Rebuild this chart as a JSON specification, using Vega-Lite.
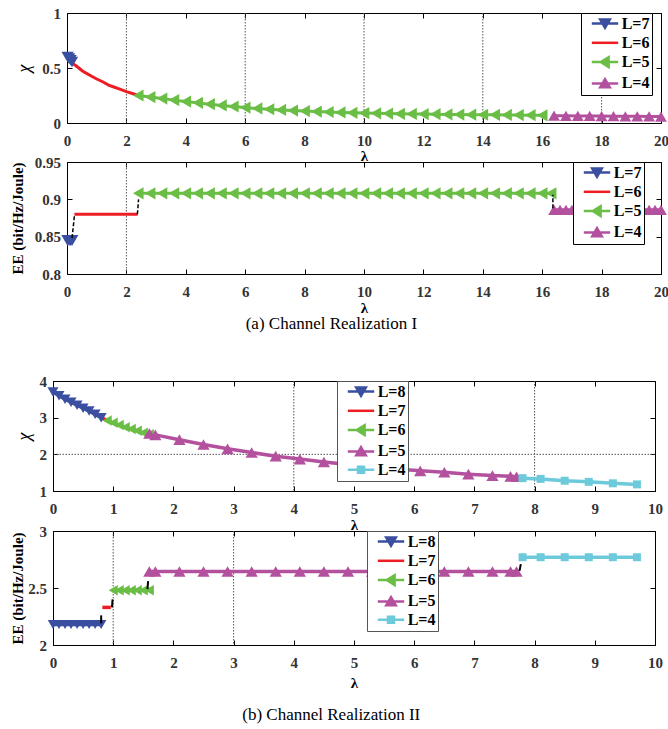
{
"$schema": "https://vega.github.io/schema/vega-lite/v6.json",
"padding": {"left": 9, "top": 5, "right": 5, "bottom": 4},
"background": "white",
"config": {
  "font": "Liberation Serif",
  "numberFormat": "~g",
  "view": {"stroke": "black", "strokeWidth": 1},
  "axis": {"tickSize": -5, "tickColor": "black", "tickWidth": 1, "domain": false, "grid": false, "labelFont": "Liberation Serif", "labelFontWeight": "bold", "labelFontSize": 15, "labelColor": "#333", "labelFlush": false, "labelOverlap": false, "titleFont": "Liberation Serif", "titleFontWeight": "bold", "titleFontSize": 15, "titleColor": "black"},
  "axisX": {"labelPadding": 15, "titlePadding": 0},
  "axisY": {"labelPadding": 11.5},
  "legend": {"labelFont": "Liberation Serif", "labelFontWeight": "bold", "labelFontSize": 16, "labelColor": "black", "strokeColor": "black", "fillColor": "white", "padding": 2.5, "rowPadding": 1.3, "symbolSize": 144, "symbolOffset": 13.5, "labelOffset": 8.7},
  "title": {"font": "Liberation Serif", "fontSize": 17, "fontWeight": "normal", "color": "black"}
},
"datasets": {
  "d1": [
    {"L":"L=7","lam":0.02,"val":0.6},{"L":"L=7","lam":0.07,"val":0.585},{"L":"L=7","lam":0.12,"val":0.57},{"L":"L=7","lam":0.17,"val":0.555},
    {"L":"L=6","lam":0.2,"val":0.54},{"L":"L=6","lam":0.3,"val":0.52},{"L":"L=6","lam":0.4,"val":0.5},{"L":"L=6","lam":0.5,"val":0.478},{"L":"L=6","lam":0.6,"val":0.46},{"L":"L=6","lam":0.8,"val":0.43},{"L":"L=6","lam":1.0,"val":0.4},{"L":"L=6","lam":1.2,"val":0.375},{"L":"L=6","lam":1.4,"val":0.345},{"L":"L=6","lam":1.6,"val":0.325},{"L":"L=6","lam":1.8,"val":0.305},{"L":"L=6","lam":2.0,"val":0.285},{"L":"L=6","lam":2.2,"val":0.268},{"L":"L=6","lam":2.35,"val":0.255},
    {"L":"L=5","lam":2.4,"val":0.25},{"L":"L=5","lam":2.8,"val":0.236},{"L":"L=5","lam":3.2,"val":0.222},{"L":"L=5","lam":3.6,"val":0.208},{"L":"L=5","lam":4.0,"val":0.195},{"L":"L=5","lam":4.4,"val":0.183},{"L":"L=5","lam":4.8,"val":0.171},{"L":"L=5","lam":5.2,"val":0.16},{"L":"L=5","lam":5.6,"val":0.15},{"L":"L=5","lam":6.0,"val":0.14},{"L":"L=5","lam":6.4,"val":0.132},{"L":"L=5","lam":6.8,"val":0.125},{"L":"L=5","lam":7.2,"val":0.119},{"L":"L=5","lam":7.6,"val":0.113},{"L":"L=5","lam":8.0,"val":0.108},{"L":"L=5","lam":8.4,"val":0.104},{"L":"L=5","lam":8.8,"val":0.1},{"L":"L=5","lam":9.2,"val":0.096},{"L":"L=5","lam":9.6,"val":0.093},{"L":"L=5","lam":10.0,"val":0.09},{"L":"L=5","lam":10.4,"val":0.088},{"L":"L=5","lam":10.8,"val":0.086},{"L":"L=5","lam":11.2,"val":0.084},{"L":"L=5","lam":11.6,"val":0.082},{"L":"L=5","lam":12.0,"val":0.081},{"L":"L=5","lam":12.4,"val":0.08},{"L":"L=5","lam":12.8,"val":0.078},{"L":"L=5","lam":13.2,"val":0.077},{"L":"L=5","lam":13.6,"val":0.076},{"L":"L=5","lam":14.0,"val":0.075},{"L":"L=5","lam":14.4,"val":0.074},{"L":"L=5","lam":14.8,"val":0.073},{"L":"L=5","lam":15.2,"val":0.072},{"L":"L=5","lam":15.6,"val":0.071},{"L":"L=5","lam":16.0,"val":0.07},
    {"L":"L=4","lam":16.4,"val":0.066},{"L":"L=4","lam":16.8,"val":0.065},{"L":"L=4","lam":17.2,"val":0.064},{"L":"L=4","lam":17.6,"val":0.064},{"L":"L=4","lam":18.0,"val":0.063},{"L":"L=4","lam":18.4,"val":0.062},{"L":"L=4","lam":18.8,"val":0.061},{"L":"L=4","lam":19.2,"val":0.061},{"L":"L=4","lam":19.6,"val":0.06},{"L":"L=4","lam":20.0,"val":0.059}
  ],
  "d2": [
    {"L":"L=7","lam":0.02,"val":0.845},{"L":"L=7","lam":0.07,"val":0.845},{"L":"L=7","lam":0.12,"val":0.845},{"L":"L=7","lam":0.17,"val":0.845},
    {"L":"L=6","lam":0.25,"val":0.88},{"L":"L=6","lam":2.38,"val":0.88},
    {"L":"L=5","lam":2.4,"val":0.908},{"L":"L=5","lam":2.8,"val":0.908},{"L":"L=5","lam":3.2,"val":0.908},{"L":"L=5","lam":3.6,"val":0.908},{"L":"L=5","lam":4.0,"val":0.908},{"L":"L=5","lam":4.4,"val":0.908},{"L":"L=5","lam":4.8,"val":0.908},{"L":"L=5","lam":5.2,"val":0.908},{"L":"L=5","lam":5.6,"val":0.908},{"L":"L=5","lam":6.0,"val":0.908},{"L":"L=5","lam":6.4,"val":0.908},{"L":"L=5","lam":6.8,"val":0.908},{"L":"L=5","lam":7.2,"val":0.908},{"L":"L=5","lam":7.6,"val":0.908},{"L":"L=5","lam":8.0,"val":0.908},{"L":"L=5","lam":8.4,"val":0.908},{"L":"L=5","lam":8.8,"val":0.908},{"L":"L=5","lam":9.2,"val":0.908},{"L":"L=5","lam":9.6,"val":0.908},{"L":"L=5","lam":10.0,"val":0.908},{"L":"L=5","lam":10.4,"val":0.908},{"L":"L=5","lam":10.8,"val":0.908},{"L":"L=5","lam":11.2,"val":0.908},{"L":"L=5","lam":11.6,"val":0.908},{"L":"L=5","lam":12.0,"val":0.908},{"L":"L=5","lam":12.4,"val":0.908},{"L":"L=5","lam":12.8,"val":0.908},{"L":"L=5","lam":13.2,"val":0.908},{"L":"L=5","lam":13.6,"val":0.908},{"L":"L=5","lam":14.0,"val":0.908},{"L":"L=5","lam":14.4,"val":0.908},{"L":"L=5","lam":14.8,"val":0.908},{"L":"L=5","lam":15.2,"val":0.908},{"L":"L=5","lam":15.6,"val":0.908},{"L":"L=5","lam":16.0,"val":0.908},{"L":"L=5","lam":16.3,"val":0.908},
    {"L":"L=4","lam":16.4,"val":0.886},{"L":"L=4","lam":16.6,"val":0.886},{"L":"L=4","lam":16.8,"val":0.886},{"L":"L=4","lam":17.0,"val":0.886},{"L":"L=4","lam":17.2,"val":0.886},{"L":"L=4","lam":17.4,"val":0.886},{"L":"L=4","lam":17.6,"val":0.886},{"L":"L=4","lam":17.8,"val":0.886},{"L":"L=4","lam":18.0,"val":0.886},{"L":"L=4","lam":18.2,"val":0.886},{"L":"L=4","lam":18.4,"val":0.886},{"L":"L=4","lam":18.6,"val":0.886},{"L":"L=4","lam":18.8,"val":0.886},{"L":"L=4","lam":19.0,"val":0.886},{"L":"L=4","lam":19.2,"val":0.886},{"L":"L=4","lam":19.4,"val":0.886},{"L":"L=4","lam":19.6,"val":0.886},{"L":"L=4","lam":19.8,"val":0.886},{"L":"L=4","lam":20.0,"val":0.886}
  ],
  "d3": [
    {"L":"L=8","lam":0,"val":3.7},{"L":"L=8","lam":0.1,"val":3.6},{"L":"L=8","lam":0.2,"val":3.5},{"L":"L=8","lam":0.3,"val":3.42},{"L":"L=8","lam":0.4,"val":3.34},{"L":"L=8","lam":0.5,"val":3.26},{"L":"L=8","lam":0.6,"val":3.18},{"L":"L=8","lam":0.7,"val":3.09},{"L":"L=8","lam":0.8,"val":3.0},
    {"L":"L=7","lam":0.8,"val":3.0},{"L":"L=7","lam":0.9,"val":2.92},
    {"L":"L=6","lam":0.9,"val":2.92},{"L":"L=6","lam":1.0,"val":2.86},{"L":"L=6","lam":1.1,"val":2.8},{"L":"L=6","lam":1.2,"val":2.74},{"L":"L=6","lam":1.3,"val":2.69},{"L":"L=6","lam":1.4,"val":2.64},{"L":"L=6","lam":1.5,"val":2.59},{"L":"L=6","lam":1.6,"val":2.55},
    {"L":"L=5","lam":1.6,"val":2.57},{"L":"L=5","lam":1.7,"val":2.53},{"L":"L=5","lam":2.1,"val":2.4},{"L":"L=5","lam":2.5,"val":2.27},{"L":"L=5","lam":2.9,"val":2.15},{"L":"L=5","lam":3.3,"val":2.05},{"L":"L=5","lam":3.7,"val":1.95},{"L":"L=5","lam":4.1,"val":1.87},{"L":"L=5","lam":4.5,"val":1.79},{"L":"L=5","lam":4.9,"val":1.72},{"L":"L=5","lam":5.3,"val":1.66},{"L":"L=5","lam":5.7,"val":1.6},{"L":"L=5","lam":6.1,"val":1.55},{"L":"L=5","lam":6.5,"val":1.51},{"L":"L=5","lam":6.9,"val":1.46},{"L":"L=5","lam":7.3,"val":1.42},{"L":"L=5","lam":7.6,"val":1.4},{"L":"L=5","lam":7.7,"val":1.39},
    {"L":"L=4","lam":7.8,"val":1.35},{"L":"L=4","lam":8.1,"val":1.33},{"L":"L=4","lam":8.5,"val":1.28},{"L":"L=4","lam":8.9,"val":1.25},{"L":"L=4","lam":9.3,"val":1.21},{"L":"L=4","lam":9.7,"val":1.18}
  ],
  "d4": [
    {"L":"L=8","lam":0,"val":2.18},{"L":"L=8","lam":0.1,"val":2.18},{"L":"L=8","lam":0.2,"val":2.18},{"L":"L=8","lam":0.3,"val":2.18},{"L":"L=8","lam":0.4,"val":2.18},{"L":"L=8","lam":0.5,"val":2.18},{"L":"L=8","lam":0.6,"val":2.18},{"L":"L=8","lam":0.7,"val":2.18},{"L":"L=8","lam":0.8,"val":2.18},
    {"L":"L=7","lam":0.82,"val":2.33},{"L":"L=7","lam":0.96,"val":2.33},
    {"L":"L=6","lam":1.0,"val":2.48},{"L":"L=6","lam":1.1,"val":2.48},{"L":"L=6","lam":1.2,"val":2.48},{"L":"L=6","lam":1.3,"val":2.48},{"L":"L=6","lam":1.4,"val":2.48},{"L":"L=6","lam":1.5,"val":2.48},{"L":"L=6","lam":1.6,"val":2.48},
    {"L":"L=5","lam":1.6,"val":2.645},{"L":"L=5","lam":1.7,"val":2.645},{"L":"L=5","lam":2.1,"val":2.645},{"L":"L=5","lam":2.5,"val":2.645},{"L":"L=5","lam":2.9,"val":2.645},{"L":"L=5","lam":3.3,"val":2.645},{"L":"L=5","lam":3.7,"val":2.645},{"L":"L=5","lam":4.1,"val":2.645},{"L":"L=5","lam":4.5,"val":2.645},{"L":"L=5","lam":4.9,"val":2.645},{"L":"L=5","lam":5.3,"val":2.645},{"L":"L=5","lam":5.7,"val":2.645},{"L":"L=5","lam":6.1,"val":2.645},{"L":"L=5","lam":6.5,"val":2.645},{"L":"L=5","lam":6.9,"val":2.645},{"L":"L=5","lam":7.3,"val":2.645},{"L":"L=5","lam":7.6,"val":2.645},{"L":"L=5","lam":7.7,"val":2.645},
    {"L":"L=4","lam":7.8,"val":2.77},{"L":"L=4","lam":8.1,"val":2.77},{"L":"L=4","lam":8.5,"val":2.77},{"L":"L=4","lam":8.9,"val":2.77},{"L":"L=4","lam":9.3,"val":2.77},{"L":"L=4","lam":9.7,"val":2.77}
  ],
  "c2": [{"lx":0.17,"lx2":0.25,"ly":0.848,"ly2":0.878},{"lx":2.37,"lx2":2.41,"ly":0.88,"ly2":0.9},{"lx":16.36,"lx2":16.36,"ly":0.888,"ly2":0.906}],
  "c4": [{"lx":0.8,"lx2":0.8,"ly":2.19,"ly2":2.26},{"lx":0.98,"lx2":0.99,"ly":2.33,"ly2":2.4},{"lx":1.57,"lx2":1.58,"ly":2.49,"ly2":2.56},{"lx":7.75,"lx2":7.77,"ly":2.65,"ly2":2.71}],
  "g1": [{"gx":2},{"gx":6},{"gx":10},{"gx":14},{"gx":18}],
  "g2": [{"gx":2}],
  "g3": [{"gx":4},{"gx":8}],
  "g3y": [{"gy":2}],
  "g4": [{"gx":1},{"gx":3}],
  "sp": [{"a":0}]
},
"vconcat": [
{
  "bounds": "flush",
  "spacing": 0,
  "resolve": {"scale": {"color": "independent", "shape": "independent", "stroke": "independent"}, "legend": {"color": "independent", "shape": "independent", "stroke": "independent"}},
  "hconcat": [
  {"width": 14, "height": 1, "view": {"stroke": null}, "data": {"name": "sp"}, "mark": {"type": "point", "opacity": 0}, "encoding": {}},
  {
  "title": {"text": "(a) Channel Realization I", "orient": "bottom", "anchor": "middle", "offset": 0, "dx": -8},
  "bounds": "flush",
  "spacing": 39,
  "resolve": {"scale": {"color": "independent", "shape": "independent", "stroke": "independent"}, "legend": {"color": "independent", "shape": "independent", "stroke": "independent"}},
  "vconcat": [
  {
    "width": 594, "height": 110,
    "resolve": {"axis": {"x": "independent", "y": "independent"}},
    "layer": [
      {"data": {"name": "g1"}, "mark": {"type": "rule", "color": "#555", "strokeDash": [1.5, 1.5], "strokeWidth": 1},
       "encoding": {"x": {"field": "gx", "type": "quantitative", "scale": {"domain": [0, 20], "nice": false}, "axis": null}}},
      {"data": {"name": "d1"}, "mark": {"type": "line", "strokeWidth": 3},
       "encoding": {
         "x": {"field": "lam", "type": "quantitative", "scale": {"domain": [0, 20], "nice": false}, "axis": {"orient": "bottom", "values": [0,2,4,6,8,10,12,14,16,18,20], "format": "d", "title": "λ", "titlePadding": 0}},
         "y": {"field": "val", "type": "quantitative", "scale": {"domain": [0, 1], "nice": false, "zero": false}, "axis": {"orient": "left", "values": [0, 0.5, 1], "title": "χ", "titleFontStyle": "italic", "titleFontWeight": "normal", "titleFontSize": 18, "titlePadding": 8}},
         "stroke": {"field": "L", "type": "nominal", "scale": {"domain": ["L=7","L=6","L=5","L=4"], "range": ["#3A4FA0","#EE1D24","#6BBE45","#B4519E"]},
           "legend": {"orient": "none", "legendX": 514, "legendY": 0, "title": null, "labelExpr": "datum.label + '\u00a0\u00a0'",
             "encoding": {"symbols": {"shape": {"value": {"expr": "datum.value === 'L=7' ? 'M-2.2,0H2.2M-0.8,-0.65H0.8L0,0.7Z' : datum.value === 'L=6' ? 'M-2.2,0H2.2' : datum.value === 'L=5' ? 'M-2.2,0H2.2M-0.7,0L0.6,-0.8V0.8Z' : 'M-2.2,0H2.2M-0.8,0.65L0,-0.7L0.8,0.65Z'"}}, "fill": {"value": {"expr": "datum.value === 'L=7' ? '#3A4FA0' : datum.value === 'L=6' ? '#EE1D24' : datum.value === 'L=5' ? '#6BBE45' : '#B4519E'"}}, "strokeWidth": {"value": 2.5}}}}}}},
      {"data": {"name": "d1"}, "transform": [{"filter": "datum.L === 'L=7'"}], "mark": {"type": "point", "shape": "triangle-down", "filled": true, "color": "#3A4FA0", "size": 150, "opacity": 1},
       "encoding": {"x": {"field": "lam", "type": "quantitative", "axis": null}, "y": {"field": "val", "type": "quantitative", "axis": null}}},
      {"data": {"name": "d1"}, "transform": [{"filter": "datum.L === 'L=5'"}], "mark": {"type": "point", "shape": "triangle-left", "filled": true, "color": "#6BBE45", "size": 150, "opacity": 1},
       "encoding": {"x": {"field": "lam", "type": "quantitative", "axis": null}, "y": {"field": "val", "type": "quantitative", "axis": null}}},
      {"data": {"name": "d1"}, "transform": [{"filter": "datum.L === 'L=4'"}], "mark": {"type": "point", "shape": "triangle-up", "filled": true, "color": "#B4519E", "size": 140, "opacity": 1},
       "encoding": {"x": {"field": "lam", "type": "quantitative", "axis": null}, "y": {"field": "val", "type": "quantitative", "axis": null}}},
      {"data": {"name": "d1"}, "mark": {"type": "point", "opacity": 0},
       "encoding": {
         "x": {"field": "lam", "type": "quantitative", "axis": {"orient": "top", "labels": false, "title": null, "values": [0,2,4,6,8,10,12,14,16,18,20]}},
         "y": {"field": "val", "type": "quantitative", "axis": {"orient": "right", "labels": false, "title": null, "values": [0, 0.5, 1]}}}}
    ]
  },
  {
    "width": 594, "height": 112,
    "resolve": {"axis": {"x": "independent", "y": "independent"}},
    "layer": [
      {"data": {"name": "g2"}, "mark": {"type": "rule", "color": "#555", "strokeDash": [1.5, 1.5], "strokeWidth": 1},
       "encoding": {"x": {"field": "gx", "type": "quantitative", "scale": {"domain": [0, 20], "nice": false}, "axis": null}}},
      {"data": {"name": "d2"}, "mark": {"type": "line", "strokeWidth": 3},
       "encoding": {
         "x": {"field": "lam", "type": "quantitative", "scale": {"domain": [0, 20], "nice": false}, "axis": {"orient": "bottom", "values": [0,2,4,6,8,10,12,14,16,18,20], "format": "d", "title": "λ", "titlePadding": 1}},
         "y": {"field": "val", "type": "quantitative", "scale": {"domain": [0.8, 0.95], "nice": false, "zero": false}, "axis": {"orient": "left", "values": [0.8, 0.85, 0.9, 0.95], "title": "EE (bit/Hz/Joule)", "titlePadding": 9}},
         "stroke": {"field": "L", "type": "nominal", "scale": {"domain": ["L=7","L=6","L=5","L=4"], "range": ["#3A4FA0","#EE1D24","#6BBE45","#B4519E"]},
           "legend": {"orient": "none", "legendX": 506, "legendY": 0, "title": null, "labelExpr": "datum.label + '\u00a0\u00a0'",
             "encoding": {"symbols": {"shape": {"value": {"expr": "datum.value === 'L=7' ? 'M-2.2,0H2.2M-0.8,-0.65H0.8L0,0.7Z' : datum.value === 'L=6' ? 'M-2.2,0H2.2' : datum.value === 'L=5' ? 'M-2.2,0H2.2M-0.7,0L0.6,-0.8V0.8Z' : 'M-2.2,0H2.2M-0.8,0.65L0,-0.7L0.8,0.65Z'"}}, "fill": {"value": {"expr": "datum.value === 'L=7' ? '#3A4FA0' : datum.value === 'L=6' ? '#EE1D24' : datum.value === 'L=5' ? '#6BBE45' : '#B4519E'"}}, "strokeWidth": {"value": 2.5}}}}}}},
      {"data": {"name": "d2"}, "transform": [{"filter": "datum.L === 'L=7'"}], "mark": {"type": "point", "shape": "triangle-down", "filled": true, "color": "#3A4FA0", "size": 160, "opacity": 1},
       "encoding": {"x": {"field": "lam", "type": "quantitative", "axis": null}, "y": {"field": "val", "type": "quantitative", "axis": null}}},
      {"data": {"name": "d2"}, "transform": [{"filter": "datum.L === 'L=5'"}], "mark": {"type": "point", "shape": "triangle-left", "filled": true, "color": "#6BBE45", "size": 150, "opacity": 1},
       "encoding": {"x": {"field": "lam", "type": "quantitative", "axis": null}, "y": {"field": "val", "type": "quantitative", "axis": null}}},
      {"data": {"name": "d2"}, "transform": [{"filter": "datum.L === 'L=4'"}], "mark": {"type": "point", "shape": "triangle-up", "filled": true, "color": "#B4519E", "size": 140, "opacity": 1},
       "encoding": {"x": {"field": "lam", "type": "quantitative", "axis": null}, "y": {"field": "val", "type": "quantitative", "axis": null}}},
      {"data": {"name": "c2"}, "mark": {"type": "rule", "color": "black", "strokeWidth": 1.5, "strokeDash": [4, 2]},
       "encoding": {"x": {"field": "lx", "type": "quantitative", "axis": null}, "x2": {"field": "lx2"}, "y": {"field": "ly", "type": "quantitative", "axis": null}, "y2": {"field": "ly2"}}},
      {"data": {"name": "d2"}, "mark": {"type": "point", "opacity": 0},
       "encoding": {
         "x": {"field": "lam", "type": "quantitative", "axis": {"orient": "top", "labels": false, "title": null, "values": [0,2,4,6,8,10,12,14,16,18,20]}},
         "y": {"field": "val", "type": "quantitative", "axis": {"orient": "right", "labels": false, "title": null, "values": [0.8, 0.85, 0.9, 0.95]}}}}
    ]
  }
  ]
  }
  ]
},
{
  "title": {"text": "(b) Channel Realization II", "orient": "bottom", "anchor": "middle", "offset": 16, "dx": -5},
  "bounds": "flush",
  "spacing": 40,
  "resolve": {"scale": {"color": "independent", "shape": "independent", "stroke": "independent"}, "legend": {"color": "independent", "shape": "independent", "stroke": "independent"}},
  "vconcat": [
  {
    "width": 602, "height": 110,
    "resolve": {"axis": {"x": "independent", "y": "independent"}},
    "layer": [
      {"data": {"name": "g3"}, "mark": {"type": "rule", "color": "#555", "strokeDash": [1.5, 1.5], "strokeWidth": 1},
       "encoding": {"x": {"field": "gx", "type": "quantitative", "scale": {"domain": [0, 10], "nice": false}, "axis": null}}},
      {"data": {"name": "g3y"}, "mark": {"type": "rule", "color": "#555", "strokeDash": [1.5, 1.5], "strokeWidth": 1},
       "encoding": {"y": {"field": "gy", "type": "quantitative", "scale": {"domain": [1, 4], "nice": false, "zero": false}, "axis": null}}},
      {"data": {"name": "d3"}, "mark": {"type": "line", "strokeWidth": 3.5},
       "encoding": {
         "x": {"field": "lam", "type": "quantitative", "scale": {"domain": [0, 10], "nice": false}, "axis": {"orient": "bottom", "values": [0,1,2,3,4,5,6,7,8,9,10], "format": "d", "title": "λ", "titlePadding": 1}},
         "y": {"field": "val", "type": "quantitative", "scale": {"domain": [1, 4], "nice": false, "zero": false}, "axis": {"orient": "left", "values": [1, 2, 3, 4], "title": "χ", "titleFontStyle": "italic", "titleFontWeight": "normal", "titleFontSize": 18, "titlePadding": 5.5}},
         "stroke": {"field": "L", "type": "nominal", "scale": {"domain": ["L=8","L=7","L=6","L=5","L=4"], "range": ["#3A4FA0","#EE1D24","#6BBE45","#B4519E","#6DCADB"]},
           "legend": {"orient": "none", "legendX": 284, "legendY": 0, "title": null, "strokeColor": "#555", "labelExpr": "datum.label + '\u00a0\u00a0'",
             "encoding": {"symbols": {"shape": {"value": {"expr": "datum.value === 'L=8' ? 'M-2.2,0H2.2M-0.8,-0.65H0.8L0,0.7Z' : datum.value === 'L=7' ? 'M-2.2,0H2.2' : datum.value === 'L=6' ? 'M-2.2,0H2.2M-0.7,0L0.6,-0.8V0.8Z' : datum.value === 'L=5' ? 'M-2.2,0H2.2M-0.8,0.65L0,-0.7L0.8,0.65Z' : 'M-2.2,0H2.2M-0.5,-0.5H0.5V0.5H-0.5Z'"}}, "fill": {"value": {"expr": "datum.value === 'L=8' ? '#3A4FA0' : datum.value === 'L=7' ? '#EE1D24' : datum.value === 'L=6' ? '#6BBE45' : datum.value === 'L=5' ? '#B4519E' : '#6DCADB'"}}, "strokeWidth": {"value": 2.5}}}}}}},
      {"data": {"name": "d3"}, "transform": [{"filter": "datum.L === 'L=8'"}], "mark": {"type": "point", "shape": "triangle-down", "filled": true, "color": "#3A4FA0", "size": 120, "opacity": 1},
       "encoding": {"x": {"field": "lam", "type": "quantitative", "axis": null}, "y": {"field": "val", "type": "quantitative", "axis": null}}},
      {"data": {"name": "d3"}, "transform": [{"filter": "datum.L === 'L=6'"}], "mark": {"type": "point", "shape": "triangle-left", "filled": true, "color": "#6BBE45", "size": 110, "opacity": 1},
       "encoding": {"x": {"field": "lam", "type": "quantitative", "axis": null}, "y": {"field": "val", "type": "quantitative", "axis": null}}},
      {"data": {"name": "d3"}, "transform": [{"filter": "datum.L === 'L=5'"}], "mark": {"type": "point", "shape": "triangle-up", "filled": true, "color": "#B4519E", "size": 150, "opacity": 1},
       "encoding": {"x": {"field": "lam", "type": "quantitative", "axis": null}, "y": {"field": "val", "type": "quantitative", "axis": null}}},
      {"data": {"name": "d3"}, "transform": [{"filter": "datum.L === 'L=4'"}], "mark": {"type": "point", "shape": "square", "filled": true, "color": "#6DCADB", "size": 64, "opacity": 1},
       "encoding": {"x": {"field": "lam", "type": "quantitative", "axis": null}, "y": {"field": "val", "type": "quantitative", "axis": null}}},
      {"data": {"name": "d3"}, "mark": {"type": "point", "opacity": 0},
       "encoding": {
         "x": {"field": "lam", "type": "quantitative", "axis": {"orient": "top", "labels": false, "title": null, "values": [0,1,2,3,4,5,6,7,8,9,10]}},
         "y": {"field": "val", "type": "quantitative", "axis": {"orient": "right", "labels": false, "title": null, "values": [1, 2, 3, 4]}}}}
    ]
  },
  {
    "width": 602, "height": 114,
    "resolve": {"axis": {"x": "independent", "y": "independent"}},
    "layer": [
      {"data": {"name": "g4"}, "mark": {"type": "rule", "color": "#555", "strokeDash": [1.5, 1.5], "strokeWidth": 1},
       "encoding": {"x": {"field": "gx", "type": "quantitative", "scale": {"domain": [0, 10], "nice": false}, "axis": null}}},
      {"data": {"name": "d4"}, "mark": {"type": "line", "strokeWidth": 3.5},
       "encoding": {
         "x": {"field": "lam", "type": "quantitative", "scale": {"domain": [0, 10], "nice": false}, "axis": {"orient": "bottom", "values": [0,1,2,3,4,5,6,7,8,9,10], "format": "d", "title": "λ", "titlePadding": 5}},
         "y": {"field": "val", "type": "quantitative", "scale": {"domain": [2, 3], "nice": false, "zero": false}, "axis": {"orient": "left", "values": [2, 2.5, 3], "title": "EE (bit/Hz/Joule)", "titlePadding": 2.75}},
         "stroke": {"field": "L", "type": "nominal", "scale": {"domain": ["L=8","L=7","L=6","L=5","L=4"], "range": ["#3A4FA0","#EE1D24","#6BBE45","#B4519E","#6DCADB"]},
           "legend": {"orient": "none", "legendX": 314, "legendY": 0, "title": null, "strokeColor": "#555", "labelExpr": "datum.label + '\u00a0\u00a0'",
             "encoding": {"symbols": {"shape": {"value": {"expr": "datum.value === 'L=8' ? 'M-2.2,0H2.2M-0.8,-0.65H0.8L0,0.7Z' : datum.value === 'L=7' ? 'M-2.2,0H2.2' : datum.value === 'L=6' ? 'M-2.2,0H2.2M-0.7,0L0.6,-0.8V0.8Z' : datum.value === 'L=5' ? 'M-2.2,0H2.2M-0.8,0.65L0,-0.7L0.8,0.65Z' : 'M-2.2,0H2.2M-0.5,-0.5H0.5V0.5H-0.5Z'"}}, "fill": {"value": {"expr": "datum.value === 'L=8' ? '#3A4FA0' : datum.value === 'L=7' ? '#EE1D24' : datum.value === 'L=6' ? '#6BBE45' : datum.value === 'L=5' ? '#B4519E' : '#6DCADB'"}}, "strokeWidth": {"value": 2.5}}}}}}},
      {"data": {"name": "d4"}, "transform": [{"filter": "datum.L === 'L=8'"}], "mark": {"type": "point", "shape": "triangle-down", "filled": true, "color": "#3A4FA0", "size": 110, "opacity": 1},
       "encoding": {"x": {"field": "lam", "type": "quantitative", "axis": null}, "y": {"field": "val", "type": "quantitative", "axis": null}}},
      {"data": {"name": "d4"}, "transform": [{"filter": "datum.L === 'L=6'"}], "mark": {"type": "point", "shape": "triangle-left", "filled": true, "color": "#6BBE45", "size": 110, "opacity": 1},
       "encoding": {"x": {"field": "lam", "type": "quantitative", "axis": null}, "y": {"field": "val", "type": "quantitative", "axis": null}}},
      {"data": {"name": "d4"}, "transform": [{"filter": "datum.L === 'L=5'"}], "mark": {"type": "point", "shape": "triangle-up", "filled": true, "color": "#B4519E", "size": 150, "opacity": 1},
       "encoding": {"x": {"field": "lam", "type": "quantitative", "axis": null}, "y": {"field": "val", "type": "quantitative", "axis": null}}},
      {"data": {"name": "d4"}, "transform": [{"filter": "datum.L === 'L=4'"}], "mark": {"type": "point", "shape": "square", "filled": true, "color": "#6DCADB", "size": 64, "opacity": 1},
       "encoding": {"x": {"field": "lam", "type": "quantitative", "axis": null}, "y": {"field": "val", "type": "quantitative", "axis": null}}},
      {"data": {"name": "c4"}, "mark": {"type": "rule", "color": "black", "strokeWidth": 2},
       "encoding": {"x": {"field": "lx", "type": "quantitative", "axis": null}, "x2": {"field": "lx2"}, "y": {"field": "ly", "type": "quantitative", "axis": null}, "y2": {"field": "ly2"}}},
      {"data": {"name": "d4"}, "mark": {"type": "point", "opacity": 0},
       "encoding": {
         "x": {"field": "lam", "type": "quantitative", "axis": {"orient": "top", "labels": false, "title": null, "values": [0,1,2,3,4,5,6,7,8,9,10]}},
         "y": {"field": "val", "type": "quantitative", "axis": {"orient": "right", "labels": false, "title": null, "values": [2, 2.5, 3]}}}}
    ]
  }
  ]
}
],
"spacing": 41,
"resolve": {"scale": {"color": "independent", "shape": "independent", "stroke": "independent"}, "legend": {"color": "independent", "shape": "independent", "stroke": "independent"}}
}
